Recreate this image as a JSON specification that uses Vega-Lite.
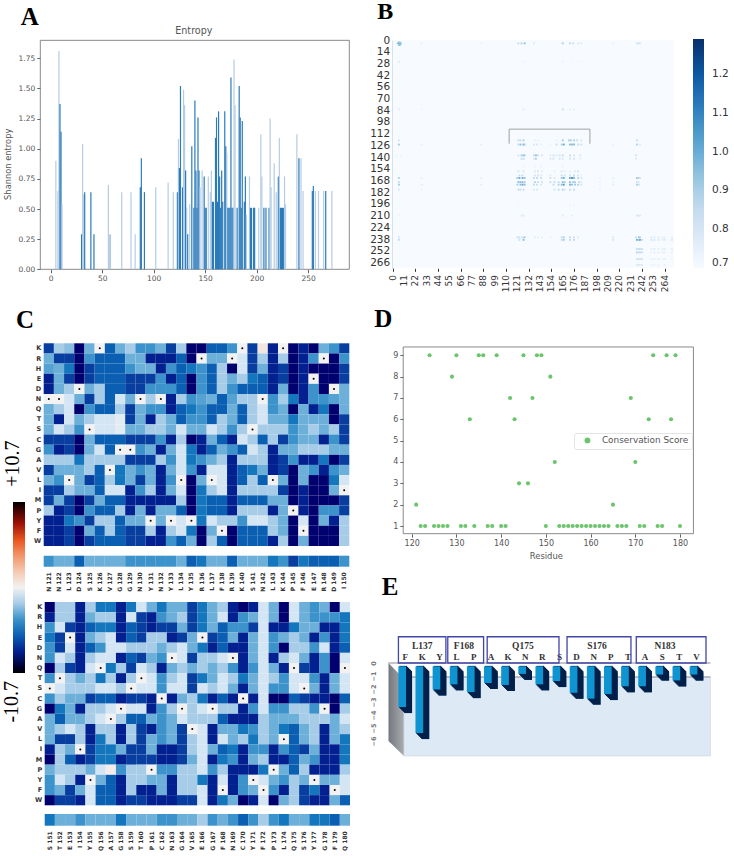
{"$schema":"https://vega.github.io/schema/vega-lite/v6.json","width":734,"height":856,"autosize":{"type":"none"},"padding":0,"background":"white","config":{"font":"DejaVu Sans","view":{"stroke":null},"axis":{"grid":false,"labelFlush":false,"labelOverlap":false}},
"datasets":{
"a":[{"x":5,"h":0.9,"t":"l"},{"x":7,"h":0.65,"t":"l"},{"x":8,"h":1.81,"t":"l"},{"x":9,"h":1.37,"t":"d"},{"x":10,"h":1.14,"t":"d"},{"x":11,"h":0.54,"t":"l"},{"x":30,"h":0.29,"t":"d"},{"x":31,"h":1.04,"t":"l"},{"x":32,"h":0.62,"t":"l"},{"x":33,"h":0.64,"t":"d"},{"x":39,"h":0.64,"t":"d"},{"x":42,"h":0.29,"t":"d"},{"x":56,"h":0.7,"t":"l"},{"x":57,"h":0.29,"t":"l"},{"x":58,"h":0.29,"t":"l"},{"x":69,"h":0.64,"t":"l"},{"x":78,"h":0.64,"t":"l"},{"x":82,"h":0.29,"t":"l"},{"x":87,"h":0.68,"t":"d"},{"x":88,"h":0.92,"t":"d"},{"x":91,"h":0.64,"t":"d"},{"x":102,"h":0.68,"t":"l"},{"x":114,"h":0.72,"t":"l"},{"x":119,"h":0.64,"t":"l"},{"x":123,"h":0.64,"t":"d"},{"x":124,"h":1.08,"t":"l"},{"x":125,"h":0.84,"t":"d"},{"x":126,"h":1.52,"t":"d"},{"x":128,"h":0.68,"t":"d"},{"x":129,"h":1.49,"t":"l"},{"x":130,"h":1.36,"t":"l"},{"x":131,"h":0.82,"t":"d"},{"x":132,"h":0.51,"t":"l"},{"x":133,"h":0.29,"t":"d"},{"x":135,"h":0.54,"t":"l"},{"x":137,"h":1.02,"t":"d"},{"x":139,"h":0.51,"t":"d"},{"x":140,"h":1.4,"t":"d"},{"x":141,"h":0.82,"t":"d"},{"x":142,"h":0.51,"t":"d"},{"x":143,"h":1.26,"t":"d"},{"x":144,"h":0.82,"t":"d"},{"x":145,"h":0.68,"t":"l"},{"x":147,"h":0.82,"t":"l"},{"x":149,"h":0.77,"t":"d"},{"x":150,"h":0.51,"t":"d"},{"x":151,"h":0.51,"t":"d"},{"x":153,"h":0.77,"t":"l"},{"x":155,"h":0.64,"t":"l"},{"x":156,"h":0.82,"t":"l"},{"x":157,"h":0.56,"t":"d"},{"x":158,"h":0.56,"t":"d"},{"x":160,"h":1.09,"t":"d"},{"x":161,"h":1.26,"t":"d"},{"x":162,"h":0.56,"t":"d"},{"x":163,"h":1.31,"t":"d"},{"x":164,"h":0.77,"t":"d"},{"x":165,"h":0.51,"t":"d"},{"x":166,"h":0.82,"t":"d"},{"x":167,"h":0.56,"t":"d"},{"x":169,"h":1.31,"t":"d"},{"x":170,"h":1.02,"t":"d"},{"x":171,"h":0.96,"t":"l"},{"x":172,"h":0.51,"t":"d"},{"x":173,"h":0.51,"t":"d"},{"x":174,"h":0.51,"t":"d"},{"x":175,"h":1.59,"t":"d"},{"x":176,"h":0.51,"t":"d"},{"x":177,"h":0.51,"t":"d"},{"x":178,"h":1.74,"t":"l"},{"x":179,"h":1.36,"t":"l"},{"x":181,"h":0.51,"t":"d"},{"x":183,"h":1.52,"t":"d"},{"x":184,"h":1.26,"t":"d"},{"x":185,"h":0.51,"t":"d"},{"x":186,"h":1.23,"t":"d"},{"x":188,"h":0.56,"t":"d"},{"x":189,"h":0.77,"t":"d"},{"x":190,"h":0.45,"t":"l"},{"x":193,"h":0.77,"t":"l"},{"x":194,"h":0.51,"t":"d"},{"x":195,"h":0.51,"t":"d"},{"x":197,"h":0.51,"t":"d"},{"x":198,"h":0.51,"t":"d"},{"x":202,"h":0.51,"t":"l"},{"x":204,"h":1.12,"t":"l"},{"x":205,"h":0.77,"t":"l"},{"x":207,"h":0.51,"t":"d"},{"x":209,"h":0.51,"t":"d"},{"x":212,"h":0.51,"t":"d"},{"x":213,"h":1.25,"t":"l"},{"x":214,"h":0.68,"t":"l"},{"x":217,"h":0.88,"t":"l"},{"x":219,"h":0.64,"t":"l"},{"x":221,"h":0.77,"t":"d"},{"x":222,"h":1.09,"t":"l"},{"x":223,"h":0.51,"t":"d"},{"x":224,"h":0.51,"t":"d"},{"x":225,"h":0.51,"t":"d"},{"x":226,"h":0.51,"t":"d"},{"x":227,"h":0.77,"t":"l"},{"x":228,"h":0.54,"t":"l"},{"x":239,"h":1.12,"t":"l"},{"x":241,"h":0.92,"t":"d"},{"x":243,"h":0.92,"t":"l"},{"x":245,"h":0.65,"t":"l"},{"x":254,"h":0.65,"t":"d"},{"x":255,"h":0.69,"t":"d"},{"x":257,"h":0.65,"t":"l"},{"x":260,"h":0.65,"t":"l"},{"x":265,"h":0.65,"t":"l"},{"x":267,"h":0.65,"t":"d"},{"x":273,"h":0.65,"t":"l"}],
"b":[{"x":5,"y":4,"v":0.95},{"x":6,"y":4,"v":1},{"x":7,"y":4,"v":1.05},{"x":8,"y":4,"v":0.95},{"x":6,"y":3,"v":0.95},{"x":7,"y":3,"v":0.9},{"x":6,"y":6,"v":0.9},{"x":7,"y":6,"v":0.95},{"x":28,"y":4,"v":0.76},{"x":86,"y":4,"v":0.74},{"x":122,"y":4,"v":0.85},{"x":125,"y":4,"v":0.88},{"x":128,"y":4,"v":0.95},{"x":137,"y":4,"v":0.78},{"x":165,"y":4,"v":0.9},{"x":172,"y":4,"v":0.85},{"x":175,"y":4,"v":0.85},{"x":180,"y":4,"v":0.8},{"x":183,"y":4,"v":0.78},{"x":214,"y":4,"v":0.74},{"x":237,"y":4,"v":0.82},{"x":239,"y":4,"v":0.82},{"x":240,"y":4,"v":0.8},{"x":6,"y":26,"v":0.78},{"x":127,"y":26,"v":0.74},{"x":165,"y":26,"v":0.74},{"x":86,"y":26,"v":0.72},{"x":174,"y":26,"v":0.72},{"x":179,"y":26,"v":0.72},{"x":183,"y":26,"v":0.72},{"x":6,"y":83,"v":0.76},{"x":28,"y":83,"v":0.73},{"x":127,"y":83,"v":0.78},{"x":165,"y":83,"v":0.85},{"x":172,"y":83,"v":0.76},{"x":176,"y":83,"v":0.76},{"x":6,"y":120,"v":0.8},{"x":122,"y":120,"v":0.85},{"x":124,"y":120,"v":0.85},{"x":127,"y":120,"v":0.9},{"x":138,"y":120,"v":0.75},{"x":141,"y":120,"v":0.75},{"x":159,"y":120,"v":0.75},{"x":165,"y":120,"v":0.92},{"x":171,"y":120,"v":0.9},{"x":173,"y":120,"v":0.9},{"x":176,"y":120,"v":0.9},{"x":179,"y":120,"v":0.85},{"x":183,"y":120,"v":0.8},{"x":237,"y":120,"v":0.85},{"x":6,"y":125,"v":0.92},{"x":28,"y":125,"v":0.76},{"x":86,"y":125,"v":0.76},{"x":122,"y":125,"v":0.85},{"x":124,"y":125,"v":0.95},{"x":127,"y":125,"v":1},{"x":128,"y":125,"v":0.9},{"x":137,"y":125,"v":0.8},{"x":140,"y":125,"v":0.8},{"x":144,"y":125,"v":0.75},{"x":153,"y":125,"v":0.73},{"x":159,"y":125,"v":0.85},{"x":164,"y":125,"v":0.9},{"x":166,"y":125,"v":1},{"x":172,"y":125,"v":0.95},{"x":174,"y":125,"v":0.95},{"x":176,"y":125,"v":0.95},{"x":180,"y":125,"v":0.85},{"x":183,"y":125,"v":0.82},{"x":191,"y":125,"v":0.73},{"x":214,"y":125,"v":0.74},{"x":237,"y":125,"v":0.9},{"x":240,"y":125,"v":0.78},{"x":4,"y":138,"v":0.74},{"x":8,"y":138,"v":0.74},{"x":122,"y":138,"v":0.82},{"x":125,"y":138,"v":0.9},{"x":127,"y":138,"v":0.95},{"x":128,"y":138,"v":0.9},{"x":137,"y":138,"v":0.85},{"x":139,"y":138,"v":0.95},{"x":141,"y":138,"v":0.85},{"x":145,"y":138,"v":0.8},{"x":153,"y":138,"v":0.78},{"x":156,"y":138,"v":0.8},{"x":159,"y":138,"v":0.78},{"x":162,"y":138,"v":0.8},{"x":165,"y":138,"v":0.85},{"x":172,"y":138,"v":0.85},{"x":176,"y":138,"v":0.8},{"x":182,"y":138,"v":0.8},{"x":236,"y":138,"v":0.82},{"x":125,"y":142,"v":0.85},{"x":127,"y":142,"v":0.85},{"x":137,"y":142,"v":0.8},{"x":139,"y":142,"v":0.9},{"x":153,"y":142,"v":0.8},{"x":156,"y":142,"v":0.8},{"x":162,"y":142,"v":0.8},{"x":165,"y":142,"v":0.8},{"x":172,"y":142,"v":0.8},{"x":176,"y":142,"v":0.8},{"x":182,"y":142,"v":0.75},{"x":236,"y":142,"v":0.78},{"x":127,"y":151,"v":0.74},{"x":138,"y":151,"v":0.74},{"x":144,"y":151,"v":0.74},{"x":165,"y":151,"v":0.74},{"x":122,"y":157,"v":0.8},{"x":127,"y":157,"v":0.8},{"x":138,"y":157,"v":0.78},{"x":141,"y":157,"v":0.8},{"x":145,"y":157,"v":0.76},{"x":157,"y":157,"v":0.76},{"x":164,"y":157,"v":0.8},{"x":167,"y":157,"v":0.76},{"x":172,"y":157,"v":0.76},{"x":177,"y":157,"v":0.78},{"x":180,"y":157,"v":0.8},{"x":123,"y":162,"v":0.85},{"x":126,"y":162,"v":0.85},{"x":138,"y":162,"v":0.82},{"x":141,"y":162,"v":0.8},{"x":144,"y":162,"v":0.78},{"x":153,"y":162,"v":0.78},{"x":164,"y":162,"v":0.85},{"x":167,"y":162,"v":0.82},{"x":172,"y":162,"v":0.82},{"x":176,"y":162,"v":0.85},{"x":180,"y":162,"v":0.8},{"x":183,"y":162,"v":0.74},{"x":6,"y":165,"v":0.9},{"x":28,"y":165,"v":0.76},{"x":86,"y":165,"v":0.76},{"x":121,"y":165,"v":0.92},{"x":123,"y":165,"v":1},{"x":126,"y":165,"v":1},{"x":128,"y":165,"v":0.95},{"x":137,"y":165,"v":0.85},{"x":140,"y":165,"v":0.85},{"x":144,"y":165,"v":0.82},{"x":153,"y":165,"v":0.82},{"x":157,"y":165,"v":0.8},{"x":164,"y":165,"v":0.92},{"x":166,"y":165,"v":1},{"x":172,"y":165,"v":1},{"x":174,"y":165,"v":1.05},{"x":176,"y":165,"v":0.95},{"x":180,"y":165,"v":0.88},{"x":183,"y":165,"v":0.78},{"x":201,"y":165,"v":0.73},{"x":214,"y":165,"v":0.76},{"x":237,"y":165,"v":0.92},{"x":239,"y":165,"v":0.88},{"x":240,"y":165,"v":0.82},{"x":6,"y":170,"v":0.85},{"x":122,"y":170,"v":0.95},{"x":124,"y":170,"v":0.95},{"x":126,"y":170,"v":0.95},{"x":128,"y":170,"v":0.92},{"x":138,"y":170,"v":0.88},{"x":141,"y":170,"v":0.85},{"x":145,"y":170,"v":0.82},{"x":153,"y":170,"v":0.85},{"x":157,"y":170,"v":0.85},{"x":161,"y":170,"v":0.85},{"x":165,"y":170,"v":0.95},{"x":167,"y":170,"v":0.9},{"x":172,"y":170,"v":0.95},{"x":175,"y":170,"v":0.92},{"x":177,"y":170,"v":0.9},{"x":181,"y":170,"v":0.85},{"x":183,"y":170,"v":0.78},{"x":201,"y":170,"v":0.73},{"x":214,"y":170,"v":0.74},{"x":237,"y":170,"v":0.82},{"x":239,"y":170,"v":0.78},{"x":6,"y":173,"v":0.92},{"x":28,"y":173,"v":0.76},{"x":86,"y":173,"v":0.76},{"x":121,"y":173,"v":0.9},{"x":124,"y":173,"v":0.95},{"x":126,"y":173,"v":1},{"x":128,"y":173,"v":0.95},{"x":137,"y":173,"v":0.85},{"x":140,"y":173,"v":0.85},{"x":144,"y":173,"v":0.8},{"x":156,"y":173,"v":0.85},{"x":161,"y":173,"v":0.9},{"x":164,"y":173,"v":0.95},{"x":166,"y":173,"v":1.05},{"x":172,"y":173,"v":0.98},{"x":174,"y":173,"v":0.95},{"x":177,"y":173,"v":0.92},{"x":180,"y":173,"v":0.9},{"x":183,"y":173,"v":0.8},{"x":201,"y":173,"v":0.74},{"x":214,"y":173,"v":0.76},{"x":237,"y":173,"v":0.9},{"x":239,"y":173,"v":0.82},{"x":6,"y":179,"v":0.8},{"x":28,"y":179,"v":0.74},{"x":122,"y":179,"v":0.85},{"x":124,"y":179,"v":0.85},{"x":127,"y":179,"v":0.85},{"x":137,"y":179,"v":0.8},{"x":140,"y":179,"v":0.78},{"x":157,"y":179,"v":0.82},{"x":161,"y":179,"v":0.85},{"x":165,"y":179,"v":0.88},{"x":167,"y":179,"v":0.8},{"x":172,"y":179,"v":0.85},{"x":176,"y":179,"v":0.85},{"x":201,"y":179,"v":0.73},{"x":123,"y":197,"v":0.72},{"x":172,"y":197,"v":0.73},{"x":176,"y":197,"v":0.73},{"x":180,"y":197,"v":0.72},{"x":6,"y":210,"v":0.74},{"x":125,"y":210,"v":0.76},{"x":127,"y":210,"v":0.78},{"x":165,"y":210,"v":0.78},{"x":174,"y":210,"v":0.76},{"x":237,"y":210,"v":0.8},{"x":239,"y":210,"v":0.8},{"x":240,"y":210,"v":0.78},{"x":6,"y":236,"v":0.8},{"x":121,"y":236,"v":0.82},{"x":123,"y":236,"v":0.85},{"x":126,"y":236,"v":0.85},{"x":128,"y":236,"v":0.92},{"x":138,"y":236,"v":0.76},{"x":141,"y":236,"v":0.76},{"x":145,"y":236,"v":0.75},{"x":154,"y":236,"v":0.74},{"x":164,"y":236,"v":0.85},{"x":166,"y":236,"v":0.9},{"x":172,"y":236,"v":0.85},{"x":176,"y":236,"v":0.85},{"x":180,"y":236,"v":0.78},{"x":214,"y":236,"v":0.78},{"x":236,"y":236,"v":0.85},{"x":239,"y":236,"v":0.95},{"x":240,"y":236,"v":0.9},{"x":251,"y":236,"v":0.78},{"x":254,"y":236,"v":0.78},{"x":258,"y":236,"v":0.78},{"x":262,"y":236,"v":0.76},{"x":264,"y":236,"v":0.76},{"x":271,"y":236,"v":0.76},{"x":6,"y":239,"v":0.85},{"x":123,"y":239,"v":0.82},{"x":127,"y":239,"v":0.95},{"x":164,"y":239,"v":0.85},{"x":166,"y":239,"v":0.92},{"x":172,"y":239,"v":0.85},{"x":176,"y":239,"v":0.88},{"x":214,"y":239,"v":0.8},{"x":237,"y":239,"v":1},{"x":239,"y":239,"v":0.9},{"x":240,"y":239,"v":1},{"x":242,"y":239,"v":0.85},{"x":251,"y":239,"v":0.8},{"x":254,"y":239,"v":0.8},{"x":258,"y":239,"v":0.78},{"x":262,"y":239,"v":0.78},{"x":264,"y":239,"v":0.78},{"x":271,"y":239,"v":0.8},{"x":237,"y":250,"v":0.85},{"x":239,"y":250,"v":0.85},{"x":240,"y":250,"v":0.85},{"x":242,"y":250,"v":0.85},{"x":251,"y":250,"v":0.76},{"x":254,"y":250,"v":0.78},{"x":258,"y":250,"v":0.76},{"x":262,"y":250,"v":0.76},{"x":264,"y":250,"v":0.76},{"x":271,"y":250,"v":0.76},{"x":237,"y":254,"v":0.88},{"x":239,"y":254,"v":0.85},{"x":240,"y":254,"v":0.85},{"x":242,"y":254,"v":0.85},{"x":251,"y":254,"v":0.74},{"x":254,"y":254,"v":0.76},{"x":258,"y":254,"v":0.76},{"x":262,"y":254,"v":0.76},{"x":264,"y":254,"v":0.76},{"x":271,"y":254,"v":0.76},{"x":237,"y":262,"v":0.82},{"x":239,"y":262,"v":0.82},{"x":240,"y":262,"v":0.82},{"x":242,"y":262,"v":0.82},{"x":251,"y":262,"v":0.76},{"x":254,"y":262,"v":0.76},{"x":258,"y":262,"v":0.76},{"x":262,"y":262,"v":0.74},{"x":264,"y":262,"v":0.76},{"x":271,"y":262,"v":0.74},{"x":237,"y":269,"v":0.78},{"x":239,"y":269,"v":0.78},{"x":240,"y":269,"v":0.78},{"x":242,"y":269,"v":0.78},{"x":251,"y":269,"v":0.74},{"x":254,"y":269,"v":0.74},{"x":258,"y":269,"v":0.74},{"x":264,"y":269,"v":0.74}],
"bt":[{"x":0},{"x":11},{"x":22},{"x":33},{"x":44},{"x":55},{"x":66},{"x":77},{"x":88},{"x":99},{"x":110},{"x":121},{"x":132},{"x":143},{"x":154},{"x":165},{"x":176},{"x":187},{"x":198},{"x":209},{"x":220},{"x":231},{"x":242},{"x":253},{"x":264}],
"c1":[{"a":"K","p":121,"v":-7},{"a":"K","p":122,"v":-2},{"a":"K","p":123,"v":-2.5},{"a":"K","p":124,"v":-9},{"a":"K","p":125,"v":-3},{"a":"K","p":126,"v":0},{"a":"K","p":127,"v":-6},{"a":"K","p":128,"v":-3},{"a":"K","p":129,"v":-2},{"a":"K","p":130,"v":-4},{"a":"K","p":131,"v":-4},{"a":"K","p":132,"v":-3},{"a":"K","p":133,"v":-7},{"a":"K","p":134,"v":-2},{"a":"K","p":135,"v":-9},{"a":"K","p":136,"v":-9},{"a":"K","p":137,"v":-6},{"a":"K","p":138,"v":-6},{"a":"K","p":139,"v":-4},{"a":"K","p":140,"v":0},{"a":"K","p":141,"v":-7},{"a":"K","p":142,"v":0.6},{"a":"K","p":143,"v":-8},{"a":"K","p":144,"v":0},{"a":"K","p":145,"v":-9},{"a":"K","p":146,"v":-8},{"a":"K","p":147,"v":-9},{"a":"K","p":148,"v":-3},{"a":"K","p":149,"v":-4},{"a":"K","p":150,"v":-7},
{"a":"R","p":121,"v":-3},{"a":"R","p":122,"v":-7},{"a":"R","p":123,"v":-7},{"a":"R","p":124,"v":-9},{"a":"R","p":125,"v":-4},{"a":"R","p":126,"v":-6},{"a":"R","p":127,"v":-6},{"a":"R","p":128,"v":-6},{"a":"R","p":129,"v":-3},{"a":"R","p":130,"v":-3},{"a":"R","p":131,"v":-8},{"a":"R","p":132,"v":-8},{"a":"R","p":133,"v":-8},{"a":"R","p":134,"v":-6},{"a":"R","p":135,"v":-9},{"a":"R","p":136,"v":0},{"a":"R","p":137,"v":-3},{"a":"R","p":138,"v":-3},{"a":"R","p":139,"v":0},{"a":"R","p":140,"v":-1},{"a":"R","p":141,"v":-7},{"a":"R","p":142,"v":-2},{"a":"R","p":143,"v":-8},{"a":"R","p":144,"v":-2},{"a":"R","p":145,"v":-9},{"a":"R","p":146,"v":-8},{"a":"R","p":147,"v":-4},{"a":"R","p":148,"v":0},{"a":"R","p":149,"v":-9},{"a":"R","p":150,"v":-4},
{"a":"H","p":121,"v":-3.5},{"a":"H","p":122,"v":-3},{"a":"H","p":123,"v":-5},{"a":"H","p":124,"v":-9},{"a":"H","p":125,"v":-7},{"a":"H","p":126,"v":-6},{"a":"H","p":127,"v":-6},{"a":"H","p":128,"v":-6},{"a":"H","p":129,"v":-4},{"a":"H","p":130,"v":-3},{"a":"H","p":131,"v":-3},{"a":"H","p":132,"v":-8},{"a":"H","p":133,"v":-4},{"a":"H","p":134,"v":-6},{"a":"H","p":135,"v":-5},{"a":"H","p":136,"v":-4},{"a":"H","p":137,"v":-6},{"a":"H","p":138,"v":-2},{"a":"H","p":139,"v":-9},{"a":"H","p":140,"v":-1},{"a":"H","p":141,"v":-7},{"a":"H","p":142,"v":-3},{"a":"H","p":143,"v":-8},{"a":"H","p":144,"v":-7},{"a":"H","p":145,"v":-9},{"a":"H","p":146,"v":-8},{"a":"H","p":147,"v":-9},{"a":"H","p":148,"v":-9},{"a":"H","p":149,"v":-9},{"a":"H","p":150,"v":-7},
{"a":"E","p":121,"v":-8},{"a":"E","p":122,"v":-3},{"a":"E","p":123,"v":-7},{"a":"E","p":124,"v":-9},{"a":"E","p":125,"v":-7},{"a":"E","p":126,"v":-6},{"a":"E","p":127,"v":-6},{"a":"E","p":128,"v":-6},{"a":"E","p":129,"v":-7},{"a":"E","p":130,"v":-7},{"a":"E","p":131,"v":-7},{"a":"E","p":132,"v":-4},{"a":"E","p":133,"v":-8},{"a":"E","p":134,"v":-6},{"a":"E","p":135,"v":-9},{"a":"E","p":136,"v":-4},{"a":"E","p":137,"v":-6},{"a":"E","p":138,"v":-2},{"a":"E","p":139,"v":-3},{"a":"E","p":140,"v":-2},{"a":"E","p":141,"v":-5},{"a":"E","p":142,"v":-6},{"a":"E","p":143,"v":-8},{"a":"E","p":144,"v":-7},{"a":"E","p":145,"v":-9},{"a":"E","p":146,"v":-8},{"a":"E","p":147,"v":0},{"a":"E","p":148,"v":-9},{"a":"E","p":149,"v":-9},{"a":"E","p":150,"v":-7},
{"a":"D","p":121,"v":-8},{"a":"D","p":122,"v":-3},{"a":"D","p":123,"v":-2},{"a":"D","p":124,"v":0},{"a":"D","p":125,"v":-3},{"a":"D","p":126,"v":-2},{"a":"D","p":127,"v":-6},{"a":"D","p":128,"v":-6},{"a":"D","p":129,"v":-7},{"a":"D","p":130,"v":-7},{"a":"D","p":131,"v":-4},{"a":"D","p":132,"v":-4},{"a":"D","p":133,"v":-4},{"a":"D","p":134,"v":-6},{"a":"D","p":135,"v":-9},{"a":"D","p":136,"v":-4},{"a":"D","p":137,"v":-6},{"a":"D","p":138,"v":-2},{"a":"D","p":139,"v":-4},{"a":"D","p":140,"v":-6},{"a":"D","p":141,"v":-6},{"a":"D","p":142,"v":-6},{"a":"D","p":143,"v":-8},{"a":"D","p":144,"v":-3},{"a":"D","p":145,"v":-9},{"a":"D","p":146,"v":-8},{"a":"D","p":147,"v":-4},{"a":"D","p":148,"v":-9},{"a":"D","p":149,"v":0},{"a":"D","p":150,"v":-3},
{"a":"N","p":121,"v":0},{"a":"N","p":122,"v":0},{"a":"N","p":123,"v":-1},{"a":"N","p":124,"v":-3},{"a":"N","p":125,"v":-7},{"a":"N","p":126,"v":-2},{"a":"N","p":127,"v":-6},{"a":"N","p":128,"v":-1},{"a":"N","p":129,"v":-3},{"a":"N","p":130,"v":0},{"a":"N","p":131,"v":-2},{"a":"N","p":132,"v":0},{"a":"N","p":133,"v":-8},{"a":"N","p":134,"v":-2},{"a":"N","p":135,"v":-4},{"a":"N","p":136,"v":-3.5},{"a":"N","p":137,"v":-3},{"a":"N","p":138,"v":-6},{"a":"N","p":139,"v":-3.5},{"a":"N","p":140,"v":-2},{"a":"N","p":141,"v":-2},{"a":"N","p":142,"v":0},{"a":"N","p":143,"v":-4},{"a":"N","p":144,"v":-2},{"a":"N","p":145,"v":-5},{"a":"N","p":146,"v":-8},{"a":"N","p":147,"v":-4},{"a":"N","p":148,"v":-4},{"a":"N","p":149,"v":-3.5},{"a":"N","p":150,"v":-3},
{"a":"Q","p":121,"v":-3},{"a":"Q","p":122,"v":-2},{"a":"Q","p":123,"v":-1},{"a":"Q","p":124,"v":-9},{"a":"Q","p":125,"v":-4},{"a":"Q","p":126,"v":-6},{"a":"Q","p":127,"v":-6},{"a":"Q","p":128,"v":-2},{"a":"Q","p":129,"v":-7},{"a":"Q","p":130,"v":-3},{"a":"Q","p":131,"v":-4},{"a":"Q","p":132,"v":-4},{"a":"Q","p":133,"v":-8},{"a":"Q","p":134,"v":-6},{"a":"Q","p":135,"v":-5},{"a":"Q","p":136,"v":-4},{"a":"Q","p":137,"v":-6},{"a":"Q","p":138,"v":-6},{"a":"Q","p":139,"v":-3},{"a":"Q","p":140,"v":-6},{"a":"Q","p":141,"v":-2},{"a":"Q","p":142,"v":-1},{"a":"Q","p":143,"v":-4},{"a":"Q","p":144,"v":-3},{"a":"Q","p":145,"v":-9},{"a":"Q","p":146,"v":-3},{"a":"Q","p":147,"v":-8},{"a":"Q","p":148,"v":-5},{"a":"Q","p":149,"v":-9},{"a":"Q","p":150,"v":-3},
{"a":"T","p":121,"v":-3},{"a":"T","p":122,"v":-8},{"a":"T","p":123,"v":-1},{"a":"T","p":124,"v":-3},{"a":"T","p":125,"v":-2},{"a":"T","p":126,"v":-1},{"a":"T","p":127,"v":-1},{"a":"T","p":128,"v":-0.5},{"a":"T","p":129,"v":-7},{"a":"T","p":130,"v":-3},{"a":"T","p":131,"v":-8},{"a":"T","p":132,"v":-2},{"a":"T","p":133,"v":-3},{"a":"T","p":134,"v":-6},{"a":"T","p":135,"v":-4},{"a":"T","p":136,"v":-4},{"a":"T","p":137,"v":-6},{"a":"T","p":138,"v":-2},{"a":"T","p":139,"v":-3},{"a":"T","p":140,"v":-6},{"a":"T","p":141,"v":-2},{"a":"T","p":142,"v":-1},{"a":"T","p":143,"v":-3},{"a":"T","p":144,"v":-3},{"a":"T","p":145,"v":-5},{"a":"T","p":146,"v":-3},{"a":"T","p":147,"v":-3},{"a":"T","p":148,"v":-3},{"a":"T","p":149,"v":-9},{"a":"T","p":150,"v":-7},
{"a":"S","p":121,"v":-3},{"a":"S","p":122,"v":-1},{"a":"S","p":123,"v":-2},{"a":"S","p":124,"v":-4},{"a":"S","p":125,"v":0},{"a":"S","p":126,"v":-1},{"a":"S","p":127,"v":-1},{"a":"S","p":128,"v":-0.5},{"a":"S","p":129,"v":-3},{"a":"S","p":130,"v":-3},{"a":"S","p":131,"v":-2},{"a":"S","p":132,"v":-2},{"a":"S","p":133,"v":-3},{"a":"S","p":134,"v":-1},{"a":"S","p":135,"v":-3},{"a":"S","p":136,"v":-3},{"a":"S","p":137,"v":-1},{"a":"S","p":138,"v":-2},{"a":"S","p":139,"v":-4},{"a":"S","p":140,"v":-2},{"a":"S","p":141,"v":0},{"a":"S","p":142,"v":-2},{"a":"S","p":143,"v":-2},{"a":"S","p":144,"v":-2},{"a":"S","p":145,"v":-4},{"a":"S","p":146,"v":-3},{"a":"S","p":147,"v":-2},{"a":"S","p":148,"v":-3},{"a":"S","p":149,"v":-2},{"a":"S","p":150,"v":-7},
{"a":"C","p":121,"v":-7},{"a":"C","p":122,"v":-7},{"a":"C","p":123,"v":-7},{"a":"C","p":124,"v":-9},{"a":"C","p":125,"v":-3},{"a":"C","p":126,"v":-6},{"a":"C","p":127,"v":-6},{"a":"C","p":128,"v":-6},{"a":"C","p":129,"v":-7},{"a":"C","p":130,"v":-7},{"a":"C","p":131,"v":-7},{"a":"C","p":132,"v":-4},{"a":"C","p":133,"v":-8},{"a":"C","p":134,"v":-2},{"a":"C","p":135,"v":-9},{"a":"C","p":136,"v":-8},{"a":"C","p":137,"v":-3},{"a":"C","p":138,"v":-6},{"a":"C","p":139,"v":-8},{"a":"C","p":140,"v":-1},{"a":"C","p":141,"v":-2},{"a":"C","p":142,"v":-6},{"a":"C","p":143,"v":-2},{"a":"C","p":144,"v":-7},{"a":"C","p":145,"v":-4},{"a":"C","p":146,"v":-3},{"a":"C","p":147,"v":-3},{"a":"C","p":148,"v":-8},{"a":"C","p":149,"v":-4},{"a":"C","p":150,"v":-7},
{"a":"G","p":121,"v":-4},{"a":"G","p":122,"v":-8},{"a":"G","p":123,"v":-7},{"a":"G","p":124,"v":-9},{"a":"G","p":125,"v":-3},{"a":"G","p":126,"v":-1},{"a":"G","p":127,"v":-6},{"a":"G","p":128,"v":0},{"a":"G","p":129,"v":0},{"a":"G","p":130,"v":-4},{"a":"G","p":131,"v":-3},{"a":"G","p":132,"v":-8},{"a":"G","p":133,"v":-3},{"a":"G","p":134,"v":-1},{"a":"G","p":135,"v":-5},{"a":"G","p":136,"v":-8},{"a":"G","p":137,"v":-6},{"a":"G","p":138,"v":-3},{"a":"G","p":139,"v":-4},{"a":"G","p":140,"v":-6},{"a":"G","p":141,"v":-1},{"a":"G","p":142,"v":-2},{"a":"G","p":143,"v":-8},{"a":"G","p":144,"v":-3},{"a":"G","p":145,"v":-3},{"a":"G","p":146,"v":-2},{"a":"G","p":147,"v":-2},{"a":"G","p":148,"v":-2},{"a":"G","p":149,"v":-3},{"a":"G","p":150,"v":-3},
{"a":"A","p":121,"v":-2},{"a":"A","p":122,"v":-2},{"a":"A","p":123,"v":-2},{"a":"A","p":124,"v":-5},{"a":"A","p":125,"v":-2},{"a":"A","p":126,"v":-2},{"a":"A","p":127,"v":-2},{"a":"A","p":128,"v":-2},{"a":"A","p":129,"v":-7},{"a":"A","p":130,"v":-7},{"a":"A","p":131,"v":-7},{"a":"A","p":132,"v":-2},{"a":"A","p":133,"v":-4},{"a":"A","p":134,"v":-1},{"a":"A","p":135,"v":-5},{"a":"A","p":136,"v":-4},{"a":"A","p":137,"v":-3},{"a":"A","p":138,"v":-2},{"a":"A","p":139,"v":-8},{"a":"A","p":140,"v":-2},{"a":"A","p":141,"v":-2},{"a":"A","p":142,"v":-2},{"a":"A","p":143,"v":-8},{"a":"A","p":144,"v":-7},{"a":"A","p":145,"v":-4},{"a":"A","p":146,"v":-8},{"a":"A","p":147,"v":-8},{"a":"A","p":148,"v":-5},{"a":"A","p":149,"v":-9},{"a":"A","p":150,"v":-7},
{"a":"V","p":121,"v":-7},{"a":"V","p":122,"v":-3},{"a":"V","p":123,"v":-3},{"a":"V","p":124,"v":-3},{"a":"V","p":125,"v":-2},{"a":"V","p":126,"v":-6},{"a":"V","p":127,"v":0},{"a":"V","p":128,"v":-5},{"a":"V","p":129,"v":-3},{"a":"V","p":130,"v":-4},{"a":"V","p":131,"v":-3},{"a":"V","p":132,"v":-8},{"a":"V","p":133,"v":-3},{"a":"V","p":134,"v":-1},{"a":"V","p":135,"v":-4},{"a":"V","p":136,"v":-8},{"a":"V","p":137,"v":-1},{"a":"V","p":138,"v":-1},{"a":"V","p":139,"v":-8},{"a":"V","p":140,"v":-6},{"a":"V","p":141,"v":-5},{"a":"V","p":142,"v":-3},{"a":"V","p":143,"v":-8},{"a":"V","p":144,"v":-7},{"a":"V","p":145,"v":-9},{"a":"V","p":146,"v":-3},{"a":"V","p":147,"v":-4},{"a":"V","p":148,"v":-8},{"a":"V","p":149,"v":-4},{"a":"V","p":150,"v":-3},
{"a":"L","p":121,"v":-3},{"a":"L","p":122,"v":-4},{"a":"L","p":123,"v":0},{"a":"L","p":124,"v":-3},{"a":"L","p":125,"v":-7},{"a":"L","p":126,"v":-6},{"a":"L","p":127,"v":-2},{"a":"L","p":128,"v":-5},{"a":"L","p":129,"v":-3},{"a":"L","p":130,"v":-7},{"a":"L","p":131,"v":-3},{"a":"L","p":132,"v":-8},{"a":"L","p":133,"v":-4},{"a":"L","p":134,"v":0},{"a":"L","p":135,"v":-9},{"a":"L","p":136,"v":-3},{"a":"L","p":137,"v":0},{"a":"L","p":138,"v":-1},{"a":"L","p":139,"v":-8},{"a":"L","p":140,"v":-6},{"a":"L","p":141,"v":-2},{"a":"L","p":142,"v":-6},{"a":"L","p":143,"v":0},{"a":"L","p":144,"v":-3},{"a":"L","p":145,"v":-9},{"a":"L","p":146,"v":-3},{"a":"L","p":147,"v":-9},{"a":"L","p":148,"v":-9},{"a":"L","p":149,"v":-5},{"a":"L","p":150,"v":-1},
{"a":"I","p":121,"v":-7},{"a":"I","p":122,"v":-7},{"a":"I","p":123,"v":-2},{"a":"I","p":124,"v":-3},{"a":"I","p":125,"v":-3},{"a":"I","p":126,"v":-6},{"a":"I","p":127,"v":-1},{"a":"I","p":128,"v":-1},{"a":"I","p":129,"v":-8},{"a":"I","p":130,"v":-4},{"a":"I","p":131,"v":-2},{"a":"I","p":132,"v":-8},{"a":"I","p":133,"v":-3},{"a":"I","p":134,"v":-1},{"a":"I","p":135,"v":-9},{"a":"I","p":136,"v":-5},{"a":"I","p":137,"v":-2},{"a":"I","p":138,"v":-1},{"a":"I","p":139,"v":-8},{"a":"I","p":140,"v":-2},{"a":"I","p":141,"v":-2},{"a":"I","p":142,"v":-2},{"a":"I","p":143,"v":-2},{"a":"I","p":144,"v":-7},{"a":"I","p":145,"v":-9},{"a":"I","p":146,"v":-8},{"a":"I","p":147,"v":-9},{"a":"I","p":148,"v":-9},{"a":"I","p":149,"v":-3},{"a":"I","p":150,"v":0},
{"a":"M","p":121,"v":-7},{"a":"M","p":122,"v":-3},{"a":"M","p":123,"v":-7},{"a":"M","p":124,"v":-9},{"a":"M","p":125,"v":-7},{"a":"M","p":126,"v":-3},{"a":"M","p":127,"v":-6},{"a":"M","p":128,"v":-6},{"a":"M","p":129,"v":-8},{"a":"M","p":130,"v":-8},{"a":"M","p":131,"v":-8},{"a":"M","p":132,"v":-8},{"a":"M","p":133,"v":-8},{"a":"M","p":134,"v":-2},{"a":"M","p":135,"v":-9},{"a":"M","p":136,"v":-5},{"a":"M","p":137,"v":-6},{"a":"M","p":138,"v":-6},{"a":"M","p":139,"v":-8},{"a":"M","p":140,"v":-6},{"a":"M","p":141,"v":-6},{"a":"M","p":142,"v":-6},{"a":"M","p":143,"v":-3},{"a":"M","p":144,"v":-3},{"a":"M","p":145,"v":-9},{"a":"M","p":146,"v":-8},{"a":"M","p":147,"v":-9},{"a":"M","p":148,"v":-9},{"a":"M","p":149,"v":-9},{"a":"M","p":150,"v":-7},
{"a":"P","p":121,"v":-2},{"a":"P","p":122,"v":-8},{"a":"P","p":123,"v":-7},{"a":"P","p":124,"v":-9},{"a":"P","p":125,"v":-4},{"a":"P","p":126,"v":-6},{"a":"P","p":127,"v":-6},{"a":"P","p":128,"v":-2},{"a":"P","p":129,"v":-8},{"a":"P","p":130,"v":-3},{"a":"P","p":131,"v":-8},{"a":"P","p":132,"v":-3},{"a":"P","p":133,"v":-3},{"a":"P","p":134,"v":-6},{"a":"P","p":135,"v":-9},{"a":"P","p":136,"v":-5},{"a":"P","p":137,"v":-6},{"a":"P","p":138,"v":-6},{"a":"P","p":139,"v":-8},{"a":"P","p":140,"v":-2},{"a":"P","p":141,"v":-2},{"a":"P","p":142,"v":-2},{"a":"P","p":143,"v":-8},{"a":"P","p":144,"v":-3},{"a":"P","p":145,"v":0},{"a":"P","p":146,"v":-8},{"a":"P","p":147,"v":-9},{"a":"P","p":148,"v":-4},{"a":"P","p":149,"v":-4},{"a":"P","p":150,"v":-7},
{"a":"Y","p":121,"v":-8},{"a":"Y","p":122,"v":-8},{"a":"Y","p":123,"v":-5},{"a":"Y","p":124,"v":-4},{"a":"Y","p":125,"v":-7},{"a":"Y","p":126,"v":-2},{"a":"Y","p":127,"v":-2},{"a":"Y","p":128,"v":-6},{"a":"Y","p":129,"v":-3},{"a":"Y","p":130,"v":-3},{"a":"Y","p":131,"v":0},{"a":"Y","p":132,"v":-3},{"a":"Y","p":133,"v":0},{"a":"Y","p":134,"v":-1},{"a":"Y","p":135,"v":0},{"a":"Y","p":136,"v":-5},{"a":"Y","p":137,"v":-1},{"a":"Y","p":138,"v":-2},{"a":"Y","p":139,"v":-2},{"a":"Y","p":140,"v":-4},{"a":"Y","p":141,"v":-1},{"a":"Y","p":142,"v":-1},{"a":"Y","p":143,"v":-2},{"a":"Y","p":144,"v":-3},{"a":"Y","p":145,"v":-9},{"a":"Y","p":146,"v":-1},{"a":"Y","p":147,"v":-9},{"a":"Y","p":148,"v":-3},{"a":"Y","p":149,"v":-8},{"a":"Y","p":150,"v":-2},
{"a":"F","p":121,"v":-8},{"a":"F","p":122,"v":-8},{"a":"F","p":123,"v":-7},{"a":"F","p":124,"v":-9},{"a":"F","p":125,"v":-3},{"a":"F","p":126,"v":-6},{"a":"F","p":127,"v":-2},{"a":"F","p":128,"v":-6},{"a":"F","p":129,"v":-7},{"a":"F","p":130,"v":-7},{"a":"F","p":131,"v":-2},{"a":"F","p":132,"v":-8},{"a":"F","p":133,"v":-2},{"a":"F","p":134,"v":-1},{"a":"F","p":135,"v":-5},{"a":"F","p":136,"v":-9},{"a":"F","p":137,"v":-3},{"a":"F","p":138,"v":0},{"a":"F","p":139,"v":-9},{"a":"F","p":140,"v":-6},{"a":"F","p":141,"v":-6},{"a":"F","p":142,"v":-6},{"a":"F","p":143,"v":-2},{"a":"F","p":144,"v":-3},{"a":"F","p":145,"v":-9},{"a":"F","p":146,"v":0},{"a":"F","p":147,"v":-9},{"a":"F","p":148,"v":-9},{"a":"F","p":149,"v":-9},{"a":"F","p":150,"v":-2},
{"a":"W","p":121,"v":-8},{"a":"W","p":122,"v":-8},{"a":"W","p":123,"v":-7},{"a":"W","p":124,"v":-9},{"a":"W","p":125,"v":-7},{"a":"W","p":126,"v":-6},{"a":"W","p":127,"v":-6},{"a":"W","p":128,"v":-6},{"a":"W","p":129,"v":-7},{"a":"W","p":130,"v":-7},{"a":"W","p":131,"v":-8},{"a":"W","p":132,"v":-8},{"a":"W","p":133,"v":-4},{"a":"W","p":134,"v":-6},{"a":"W","p":135,"v":-3},{"a":"W","p":136,"v":-9},{"a":"W","p":137,"v":-2},{"a":"W","p":138,"v":-6},{"a":"W","p":139,"v":-9},{"a":"W","p":140,"v":-6},{"a":"W","p":141,"v":-6},{"a":"W","p":142,"v":-6},{"a":"W","p":143,"v":-8},{"a":"W","p":144,"v":-2},{"a":"W","p":145,"v":-9},{"a":"W","p":146,"v":-3},{"a":"W","p":147,"v":-9},{"a":"W","p":148,"v":-9},{"a":"W","p":149,"v":-9},{"a":"W","p":150,"v":-2}],
"c2":[{"a":"K","p":151,"v":-9},{"a":"K","p":152,"v":-2},{"a":"K","p":153,"v":-2},{"a":"K","p":154,"v":-8},{"a":"K","p":155,"v":-2},{"a":"K","p":156,"v":-5},{"a":"K","p":157,"v":-5},{"a":"K","p":158,"v":-8},{"a":"K","p":159,"v":-5},{"a":"K","p":160,"v":-1},{"a":"K","p":161,"v":-3},{"a":"K","p":162,"v":-5},{"a":"K","p":163,"v":-3},{"a":"K","p":164,"v":-3},{"a":"K","p":165,"v":-7},{"a":"K","p":166,"v":-5},{"a":"K","p":167,"v":-3},{"a":"K","p":168,"v":-2},{"a":"K","p":169,"v":-8},{"a":"K","p":170,"v":-9},{"a":"K","p":171,"v":-8},{"a":"K","p":172,"v":-1},{"a":"K","p":173,"v":-3},{"a":"K","p":174,"v":-9},{"a":"K","p":175,"v":-1},{"a":"K","p":176,"v":-3},{"a":"K","p":177,"v":-4},{"a":"K","p":178,"v":-3},{"a":"K","p":179,"v":-9},{"a":"K","p":180,"v":-1},
{"a":"R","p":151,"v":-8},{"a":"R","p":152,"v":-2},{"a":"R","p":153,"v":-2},{"a":"R","p":154,"v":-8},{"a":"R","p":155,"v":-3},{"a":"R","p":156,"v":-2},{"a":"R","p":157,"v":-2},{"a":"R","p":158,"v":-8},{"a":"R","p":159,"v":-1},{"a":"R","p":160,"v":-7},{"a":"R","p":161,"v":-8},{"a":"R","p":162,"v":-4},{"a":"R","p":163,"v":-3},{"a":"R","p":164,"v":-2},{"a":"R","p":165,"v":-7},{"a":"R","p":166,"v":-5},{"a":"R","p":167,"v":-3},{"a":"R","p":168,"v":-1},{"a":"R","p":169,"v":-8},{"a":"R","p":170,"v":-4},{"a":"R","p":171,"v":-3},{"a":"R","p":172,"v":-1},{"a":"R","p":173,"v":-3},{"a":"R","p":174,"v":-9},{"a":"R","p":175,"v":-1},{"a":"R","p":176,"v":-3},{"a":"R","p":177,"v":-4},{"a":"R","p":178,"v":-4},{"a":"R","p":179,"v":-4},{"a":"R","p":180,"v":-5},
{"a":"H","p":151,"v":-4},{"a":"H","p":152,"v":-1},{"a":"H","p":153,"v":-7},{"a":"H","p":154,"v":-8},{"a":"H","p":155,"v":-6},{"a":"H","p":156,"v":-5},{"a":"H","p":157,"v":-5},{"a":"H","p":158,"v":-8},{"a":"H","p":159,"v":-6},{"a":"H","p":160,"v":-7},{"a":"H","p":161,"v":-8},{"a":"H","p":162,"v":-7},{"a":"H","p":163,"v":-7},{"a":"H","p":164,"v":-3},{"a":"H","p":165,"v":-7},{"a":"H","p":166,"v":-5},{"a":"H","p":167,"v":-3},{"a":"H","p":168,"v":-6},{"a":"H","p":169,"v":-4},{"a":"H","p":170,"v":-4},{"a":"H","p":171,"v":-7},{"a":"H","p":172,"v":-1},{"a":"H","p":173,"v":-8},{"a":"H","p":174,"v":-8},{"a":"H","p":175,"v":-5},{"a":"H","p":176,"v":-3},{"a":"H","p":177,"v":-3},{"a":"H","p":178,"v":-8},{"a":"H","p":179,"v":-8},{"a":"H","p":180,"v":-5},
{"a":"E","p":151,"v":-5},{"a":"E","p":152,"v":-7},{"a":"E","p":153,"v":0},{"a":"E","p":154,"v":-8},{"a":"E","p":155,"v":-3},{"a":"E","p":156,"v":-2},{"a":"E","p":157,"v":-1},{"a":"E","p":158,"v":-8},{"a":"E","p":159,"v":-6},{"a":"E","p":160,"v":-7},{"a":"E","p":161,"v":-2},{"a":"E","p":162,"v":-2},{"a":"E","p":163,"v":-8},{"a":"E","p":164,"v":-7},{"a":"E","p":165,"v":-3},{"a":"E","p":166,"v":0},{"a":"E","p":167,"v":-7},{"a":"E","p":168,"v":-6},{"a":"E","p":169,"v":-3},{"a":"E","p":170,"v":-8},{"a":"E","p":171,"v":-3},{"a":"E","p":172,"v":-1},{"a":"E","p":173,"v":-4},{"a":"E","p":174,"v":-3},{"a":"E","p":175,"v":-2},{"a":"E","p":176,"v":-3},{"a":"E","p":177,"v":-8},{"a":"E","p":178,"v":-4},{"a":"E","p":179,"v":-8},{"a":"E","p":180,"v":-5},
{"a":"D","p":151,"v":-4},{"a":"D","p":152,"v":-7},{"a":"D","p":153,"v":-1},{"a":"D","p":154,"v":-8},{"a":"D","p":155,"v":-6},{"a":"D","p":156,"v":-4},{"a":"D","p":157,"v":-1},{"a":"D","p":158,"v":-1},{"a":"D","p":159,"v":-2},{"a":"D","p":160,"v":-2},{"a":"D","p":161,"v":-2},{"a":"D","p":162,"v":-3},{"a":"D","p":163,"v":-2},{"a":"D","p":164,"v":-1},{"a":"D","p":165,"v":-3},{"a":"D","p":166,"v":-5},{"a":"D","p":167,"v":-8},{"a":"D","p":168,"v":-6},{"a":"D","p":169,"v":-8},{"a":"D","p":170,"v":-8},{"a":"D","p":171,"v":-3},{"a":"D","p":172,"v":-1},{"a":"D","p":173,"v":-4},{"a":"D","p":174,"v":-9},{"a":"D","p":175,"v":-2},{"a":"D","p":176,"v":-2},{"a":"D","p":177,"v":-4},{"a":"D","p":178,"v":-1},{"a":"D","p":179,"v":-8},{"a":"D","p":180,"v":-6},
{"a":"N","p":151,"v":-4},{"a":"N","p":152,"v":-1},{"a":"N","p":153,"v":-2},{"a":"N","p":154,"v":-8},{"a":"N","p":155,"v":-2},{"a":"N","p":156,"v":-1},{"a":"N","p":157,"v":-1},{"a":"N","p":158,"v":-8},{"a":"N","p":159,"v":-6},{"a":"N","p":160,"v":-7},{"a":"N","p":161,"v":-3},{"a":"N","p":162,"v":-4},{"a":"N","p":163,"v":0},{"a":"N","p":164,"v":-1},{"a":"N","p":165,"v":-7},{"a":"N","p":166,"v":-2},{"a":"N","p":167,"v":-2},{"a":"N","p":168,"v":-1},{"a":"N","p":169,"v":0},{"a":"N","p":170,"v":-8},{"a":"N","p":171,"v":-3},{"a":"N","p":172,"v":-1},{"a":"N","p":173,"v":-8},{"a":"N","p":174,"v":-2},{"a":"N","p":175,"v":-1},{"a":"N","p":176,"v":-3},{"a":"N","p":177,"v":-8},{"a":"N","p":178,"v":-4},{"a":"N","p":179,"v":-9},{"a":"N","p":180,"v":-1},
{"a":"Q","p":151,"v":-9},{"a":"Q","p":152,"v":-2},{"a":"Q","p":153,"v":-7},{"a":"Q","p":154,"v":-8},{"a":"Q","p":155,"v":-1},{"a":"Q","p":156,"v":0},{"a":"Q","p":157,"v":-5},{"a":"Q","p":158,"v":-2},{"a":"Q","p":159,"v":-7},{"a":"Q","p":160,"v":-1},{"a":"Q","p":161,"v":-2},{"a":"Q","p":162,"v":-8},{"a":"Q","p":163,"v":-3},{"a":"Q","p":164,"v":-2},{"a":"Q","p":165,"v":-3},{"a":"Q","p":166,"v":-2},{"a":"Q","p":167,"v":-3},{"a":"Q","p":168,"v":-2},{"a":"Q","p":169,"v":-4},{"a":"Q","p":170,"v":-8},{"a":"Q","p":171,"v":-4},{"a":"Q","p":172,"v":-1},{"a":"Q","p":173,"v":-3},{"a":"Q","p":174,"v":-8},{"a":"Q","p":175,"v":0},{"a":"Q","p":176,"v":-7},{"a":"Q","p":177,"v":-8},{"a":"Q","p":178,"v":-4},{"a":"Q","p":179,"v":-9},{"a":"Q","p":180,"v":0},
{"a":"T","p":151,"v":-4},{"a":"T","p":152,"v":0},{"a":"T","p":153,"v":-2},{"a":"T","p":154,"v":-3},{"a":"T","p":155,"v":-2},{"a":"T","p":156,"v":-5},{"a":"T","p":157,"v":-2},{"a":"T","p":158,"v":-8},{"a":"T","p":159,"v":-2},{"a":"T","p":160,"v":0},{"a":"T","p":161,"v":-1},{"a":"T","p":162,"v":-4},{"a":"T","p":163,"v":-2},{"a":"T","p":164,"v":-1},{"a":"T","p":165,"v":-7},{"a":"T","p":166,"v":-5},{"a":"T","p":167,"v":-3},{"a":"T","p":168,"v":-1},{"a":"T","p":169,"v":-2},{"a":"T","p":170,"v":-5},{"a":"T","p":171,"v":-3},{"a":"T","p":172,"v":-1},{"a":"T","p":173,"v":-2},{"a":"T","p":174,"v":-4},{"a":"T","p":175,"v":-1},{"a":"T","p":176,"v":-1},{"a":"T","p":177,"v":-4},{"a":"T","p":178,"v":-8},{"a":"T","p":179,"v":-3},{"a":"T","p":180,"v":-1},
{"a":"S","p":151,"v":0},{"a":"S","p":152,"v":-1},{"a":"S","p":153,"v":-2},{"a":"S","p":154,"v":-2},{"a":"S","p":155,"v":-2},{"a":"S","p":156,"v":-1},{"a":"S","p":157,"v":-1},{"a":"S","p":158,"v":-2},{"a":"S","p":159,"v":0},{"a":"S","p":160,"v":-1},{"a":"S","p":161,"v":-1},{"a":"S","p":162,"v":-4},{"a":"S","p":163,"v":-1},{"a":"S","p":164,"v":-1},{"a":"S","p":165,"v":-7},{"a":"S","p":166,"v":-1},{"a":"S","p":167,"v":-2},{"a":"S","p":168,"v":-1},{"a":"S","p":169,"v":-3},{"a":"S","p":170,"v":-8},{"a":"S","p":171,"v":-3},{"a":"S","p":172,"v":-1},{"a":"S","p":173,"v":-4},{"a":"S","p":174,"v":-4},{"a":"S","p":175,"v":-1},{"a":"S","p":176,"v":0},{"a":"S","p":177,"v":-3},{"a":"S","p":178,"v":-8},{"a":"S","p":179,"v":-3},{"a":"S","p":180,"v":-1},
{"a":"C","p":151,"v":-4},{"a":"C","p":152,"v":-2},{"a":"C","p":153,"v":-3},{"a":"C","p":154,"v":-3},{"a":"C","p":155,"v":-7},{"a":"C","p":156,"v":-6},{"a":"C","p":157,"v":-6},{"a":"C","p":158,"v":-8},{"a":"C","p":159,"v":-7},{"a":"C","p":160,"v":-7},{"a":"C","p":161,"v":-8},{"a":"C","p":162,"v":0},{"a":"C","p":163,"v":-8},{"a":"C","p":164,"v":-3},{"a":"C","p":165,"v":-2},{"a":"C","p":166,"v":-5},{"a":"C","p":167,"v":-8},{"a":"C","p":168,"v":-6},{"a":"C","p":169,"v":-8},{"a":"C","p":170,"v":0},{"a":"C","p":171,"v":-8},{"a":"C","p":172,"v":-1},{"a":"C","p":173,"v":-9},{"a":"C","p":174,"v":-9},{"a":"C","p":175,"v":-6},{"a":"C","p":176,"v":-7},{"a":"C","p":177,"v":-8},{"a":"C","p":178,"v":-8},{"a":"C","p":179,"v":-9},{"a":"C","p":180,"v":-6},
{"a":"G","p":151,"v":-9},{"a":"G","p":152,"v":-5},{"a":"G","p":153,"v":-3},{"a":"G","p":154,"v":-8},{"a":"G","p":155,"v":-2},{"a":"G","p":156,"v":-2},{"a":"G","p":157,"v":-1},{"a":"G","p":158,"v":0},{"a":"G","p":159,"v":-1},{"a":"G","p":160,"v":-1},{"a":"G","p":161,"v":-8},{"a":"G","p":162,"v":-4},{"a":"G","p":163,"v":-2},{"a":"G","p":164,"v":0},{"a":"G","p":165,"v":-2},{"a":"G","p":166,"v":-1},{"a":"G","p":167,"v":0},{"a":"G","p":168,"v":-2},{"a":"G","p":169,"v":-2},{"a":"G","p":170,"v":-8},{"a":"G","p":171,"v":-4},{"a":"G","p":172,"v":-1},{"a":"G","p":173,"v":-4},{"a":"G","p":174,"v":-4},{"a":"G","p":175,"v":-2},{"a":"G","p":176,"v":-2},{"a":"G","p":177,"v":-4},{"a":"G","p":178,"v":0},{"a":"G","p":179,"v":-9},{"a":"G","p":180,"v":-2},
{"a":"A","p":151,"v":-3},{"a":"A","p":152,"v":-6},{"a":"A","p":153,"v":-3},{"a":"A","p":154,"v":-3},{"a":"A","p":155,"v":-2},{"a":"A","p":156,"v":-1},{"a":"A","p":157,"v":0},{"a":"A","p":158,"v":-2},{"a":"A","p":159,"v":-6},{"a":"A","p":160,"v":-6},{"a":"A","p":161,"v":-3},{"a":"A","p":162,"v":-4},{"a":"A","p":163,"v":-3},{"a":"A","p":164,"v":-1},{"a":"A","p":165,"v":-2},{"a":"A","p":166,"v":-2},{"a":"A","p":167,"v":-2},{"a":"A","p":168,"v":-6},{"a":"A","p":169,"v":-8},{"a":"A","p":170,"v":-8},{"a":"A","p":171,"v":-8},{"a":"A","p":172,"v":-2},{"a":"A","p":173,"v":-3},{"a":"A","p":174,"v":-3},{"a":"A","p":175,"v":-3},{"a":"A","p":176,"v":-2},{"a":"A","p":177,"v":-2},{"a":"A","p":178,"v":-2},{"a":"A","p":179,"v":-3},{"a":"A","p":180,"v":-1},
{"a":"V","p":151,"v":-3},{"a":"V","p":152,"v":-2},{"a":"V","p":153,"v":-1},{"a":"V","p":154,"v":-2},{"a":"V","p":155,"v":-8},{"a":"V","p":156,"v":-2},{"a":"V","p":157,"v":-2},{"a":"V","p":158,"v":-8},{"a":"V","p":159,"v":-2},{"a":"V","p":160,"v":-7},{"a":"V","p":161,"v":-8},{"a":"V","p":162,"v":-4},{"a":"V","p":163,"v":-3},{"a":"V","p":164,"v":-7},{"a":"V","p":165,"v":0},{"a":"V","p":166,"v":-1},{"a":"V","p":167,"v":-8},{"a":"V","p":168,"v":-3},{"a":"V","p":169,"v":-3},{"a":"V","p":170,"v":-5},{"a":"V","p":171,"v":-4},{"a":"V","p":172,"v":-2},{"a":"V","p":173,"v":-3},{"a":"V","p":174,"v":-5},{"a":"V","p":175,"v":-6},{"a":"V","p":176,"v":-3},{"a":"V","p":177,"v":-2},{"a":"V","p":178,"v":-8},{"a":"V","p":179,"v":-3},{"a":"V","p":180,"v":-2},
{"a":"L","p":151,"v":-3},{"a":"L","p":152,"v":-7},{"a":"L","p":153,"v":-7},{"a":"L","p":154,"v":-2},{"a":"L","p":155,"v":-8},{"a":"L","p":156,"v":-5},{"a":"L","p":157,"v":-2},{"a":"L","p":158,"v":-8},{"a":"L","p":159,"v":-2},{"a":"L","p":160,"v":-7},{"a":"L","p":161,"v":-3},{"a":"L","p":162,"v":-4},{"a":"L","p":163,"v":-3},{"a":"L","p":164,"v":-7},{"a":"L","p":165,"v":-2},{"a":"L","p":166,"v":-1},{"a":"L","p":167,"v":-8},{"a":"L","p":168,"v":-1},{"a":"L","p":169,"v":-3},{"a":"L","p":170,"v":-2},{"a":"L","p":171,"v":-5},{"a":"L","p":172,"v":-2},{"a":"L","p":173,"v":-3},{"a":"L","p":174,"v":0},{"a":"L","p":175,"v":-6},{"a":"L","p":176,"v":-3},{"a":"L","p":177,"v":-2},{"a":"L","p":178,"v":-8},{"a":"L","p":179,"v":-3},{"a":"L","p":180,"v":-5},
{"a":"I","p":151,"v":-8},{"a":"I","p":152,"v":-2},{"a":"I","p":153,"v":-3},{"a":"I","p":154,"v":0},{"a":"I","p":155,"v":-7},{"a":"I","p":156,"v":-5},{"a":"I","p":157,"v":-5},{"a":"I","p":158,"v":-3},{"a":"I","p":159,"v":-7},{"a":"I","p":160,"v":-7},{"a":"I","p":161,"v":-3},{"a":"I","p":162,"v":-8},{"a":"I","p":163,"v":-8},{"a":"I","p":164,"v":-7},{"a":"I","p":165,"v":-2},{"a":"I","p":166,"v":-1},{"a":"I","p":167,"v":-3},{"a":"I","p":168,"v":-6},{"a":"I","p":169,"v":-5},{"a":"I","p":170,"v":-8},{"a":"I","p":171,"v":-4},{"a":"I","p":172,"v":-4},{"a":"I","p":173,"v":-8},{"a":"I","p":174,"v":-4},{"a":"I","p":175,"v":-6},{"a":"I","p":176,"v":-7},{"a":"I","p":177,"v":-3},{"a":"I","p":178,"v":-8},{"a":"I","p":179,"v":-8},{"a":"I","p":180,"v":-5},
{"a":"M","p":151,"v":-9},{"a":"M","p":152,"v":-2},{"a":"M","p":153,"v":-6},{"a":"M","p":154,"v":-8},{"a":"M","p":155,"v":-7},{"a":"M","p":156,"v":-5},{"a":"M","p":157,"v":-5},{"a":"M","p":158,"v":-8},{"a":"M","p":159,"v":-7},{"a":"M","p":160,"v":-7},{"a":"M","p":161,"v":-7},{"a":"M","p":162,"v":-8},{"a":"M","p":163,"v":-8},{"a":"M","p":164,"v":-7},{"a":"M","p":165,"v":-3},{"a":"M","p":166,"v":-1},{"a":"M","p":167,"v":-8},{"a":"M","p":168,"v":-5},{"a":"M","p":169,"v":-4},{"a":"M","p":170,"v":-8},{"a":"M","p":171,"v":-3},{"a":"M","p":172,"v":-2},{"a":"M","p":173,"v":-8},{"a":"M","p":174,"v":-8},{"a":"M","p":175,"v":-6},{"a":"M","p":176,"v":-3},{"a":"M","p":177,"v":-4},{"a":"M","p":178,"v":-8},{"a":"M","p":179,"v":-8},{"a":"M","p":180,"v":-5},
{"a":"P","p":151,"v":-3},{"a":"P","p":152,"v":-2},{"a":"P","p":153,"v":-2},{"a":"P","p":154,"v":-2},{"a":"P","p":155,"v":-3},{"a":"P","p":156,"v":-1},{"a":"P","p":157,"v":0.3},{"a":"P","p":158,"v":-4},{"a":"P","p":159,"v":-2},{"a":"P","p":160,"v":-2},{"a":"P","p":161,"v":0},{"a":"P","p":162,"v":-4},{"a":"P","p":163,"v":-4},{"a":"P","p":164,"v":-2},{"a":"P","p":165,"v":-2},{"a":"P","p":166,"v":-1},{"a":"P","p":167,"v":-4},{"a":"P","p":168,"v":-2},{"a":"P","p":169,"v":-8},{"a":"P","p":170,"v":-8},{"a":"P","p":171,"v":-8},{"a":"P","p":172,"v":-5},{"a":"P","p":173,"v":0},{"a":"P","p":174,"v":-3},{"a":"P","p":175,"v":-6},{"a":"P","p":176,"v":-2},{"a":"P","p":177,"v":-8},{"a":"P","p":178,"v":-8},{"a":"P","p":179,"v":-8},{"a":"P","p":180,"v":-2},
{"a":"Y","p":151,"v":-4},{"a":"Y","p":152,"v":-1},{"a":"Y","p":153,"v":-2},{"a":"Y","p":154,"v":-8},{"a":"Y","p":155,"v":0},{"a":"Y","p":156,"v":-3},{"a":"Y","p":157,"v":-6},{"a":"Y","p":158,"v":-8},{"a":"Y","p":159,"v":-2},{"a":"Y","p":160,"v":-2},{"a":"Y","p":161,"v":-3},{"a":"Y","p":162,"v":-3},{"a":"Y","p":163,"v":-8},{"a":"Y","p":164,"v":-2},{"a":"Y","p":165,"v":-2},{"a":"Y","p":166,"v":-5},{"a":"Y","p":167,"v":-8},{"a":"Y","p":168,"v":-1},{"a":"Y","p":169,"v":-8},{"a":"Y","p":170,"v":-4},{"a":"Y","p":171,"v":0},{"a":"Y","p":172,"v":-1},{"a":"Y","p":173,"v":-3},{"a":"Y","p":174,"v":-4},{"a":"Y","p":175,"v":-2},{"a":"Y","p":176,"v":-3},{"a":"Y","p":177,"v":0},{"a":"Y","p":178,"v":-3},{"a":"Y","p":179,"v":-3},{"a":"Y","p":180,"v":-1},
{"a":"F","p":151,"v":-4},{"a":"F","p":152,"v":-3},{"a":"F","p":153,"v":-7},{"a":"F","p":154,"v":-3},{"a":"F","p":155,"v":-1},{"a":"F","p":156,"v":-6},{"a":"F","p":157,"v":-6},{"a":"F","p":158,"v":-8},{"a":"F","p":159,"v":-2},{"a":"F","p":160,"v":-8},{"a":"F","p":161,"v":-8},{"a":"F","p":162,"v":-3},{"a":"F","p":163,"v":-8},{"a":"F","p":164,"v":-2},{"a":"F","p":165,"v":-2},{"a":"F","p":166,"v":-1},{"a":"F","p":167,"v":-8},{"a":"F","p":168,"v":0},{"a":"F","p":169,"v":-8},{"a":"F","p":170,"v":-4},{"a":"F","p":171,"v":-3},{"a":"F","p":172,"v":0},{"a":"F","p":173,"v":-4},{"a":"F","p":174,"v":-8},{"a":"F","p":175,"v":-2},{"a":"F","p":176,"v":-7},{"a":"F","p":177,"v":-5},{"a":"F","p":178,"v":-8},{"a":"F","p":179,"v":0},{"a":"F","p":180,"v":-1},
{"a":"W","p":151,"v":-9},{"a":"W","p":152,"v":-7},{"a":"W","p":153,"v":-7},{"a":"W","p":154,"v":-8},{"a":"W","p":155,"v":-1},{"a":"W","p":156,"v":-6},{"a":"W","p":157,"v":-6},{"a":"W","p":158,"v":-8},{"a":"W","p":159,"v":-7},{"a":"W","p":160,"v":-7},{"a":"W","p":161,"v":-8},{"a":"W","p":162,"v":-8},{"a":"W","p":163,"v":-8},{"a":"W","p":164,"v":-7},{"a":"W","p":165,"v":-7},{"a":"W","p":166,"v":-1},{"a":"W","p":167,"v":-8},{"a":"W","p":168,"v":-5},{"a":"W","p":169,"v":-3},{"a":"W","p":170,"v":-9},{"a":"W","p":171,"v":-8},{"a":"W","p":172,"v":-1},{"a":"W","p":173,"v":-9},{"a":"W","p":174,"v":-3},{"a":"W","p":175,"v":-2},{"a":"W","p":176,"v":-7},{"a":"W","p":177,"v":-8},{"a":"W","p":178,"v":-8},{"a":"W","p":179,"v":-3},{"a":"W","p":180,"v":-6}],
"s1":[{"r":"N 121","v":-4},{"r":"N 122","v":-3},{"r":"L 123","v":-3},{"r":"D 124","v":-6},{"r":"S 125","v":-3},{"r":"K 126","v":-3},{"r":"V 127","v":-3},{"r":"G 128","v":-3},{"r":"G 129","v":-4},{"r":"N 130","v":-4},{"r":"Y 131","v":-4},{"r":"N 132","v":-4},{"r":"Y 133","v":-4},{"r":"L 134","v":-3},{"r":"Y 135","v":-6},{"r":"R 136","v":-5},{"r":"L 137","v":-3},{"r":"F 138","v":-3},{"r":"R 139","v":-6},{"r":"K 140","v":-3},{"r":"S 141","v":-3},{"r":"N 142","v":-3},{"r":"L 143","v":-5},{"r":"K 144","v":-4},{"r":"P 145","v":-7},{"r":"F 146","v":-5},{"r":"E 147","v":-6},{"r":"R 148","v":-6},{"r":"D 149","v":-6},{"r":"I 150","v":-4}],
"s2":[{"r":"S 151","v":-5},{"r":"T 152","v":-3},{"r":"E 153","v":-3},{"r":"I 154","v":-4},{"r":"Y 155","v":-3},{"r":"Q 156","v":-3},{"r":"A 157","v":-3},{"r":"G 158","v":-5},{"r":"S 159","v":-3},{"r":"T 160","v":-3},{"r":"P 161","v":-3},{"r":"C 162","v":-4},{"r":"N 163","v":-4},{"r":"G 164","v":-3},{"r":"V 165","v":-3},{"r":"E 166","v":-2},{"r":"G 167","v":-4},{"r":"F 168","v":-3},{"r":"N 169","v":-4},{"r":"C 170","v":-6},{"r":"Y 171","v":-4},{"r":"F 172","v":-2},{"r":"P 173","v":-4},{"r":"L 174","v":-5},{"r":"Q 175","v":-3},{"r":"S 176","v":-3},{"r":"Y 177","v":-5},{"r":"G 178","v":-5},{"r":"F 179","v":-6},{"r":"Q 180","v":-3}],
"d":[{"x":124,"y":9},{"x":130,"y":9},{"x":135,"y":9},{"x":136,"y":9},{"x":139,"y":9},{"x":145,"y":9},{"x":148,"y":9},{"x":149,"y":9},{"x":174,"y":9},{"x":177,"y":9},{"x":179,"y":9},{"x":129,"y":8},{"x":151,"y":8},{"x":142,"y":7},{"x":147,"y":7},{"x":169,"y":7},{"x":133,"y":6},{"x":143,"y":6},{"x":173,"y":6},{"x":178,"y":6},{"x":152,"y":4},{"x":170,"y":4},{"x":144,"y":3},{"x":146,"y":3},{"x":121,"y":2},{"x":165,"y":2},{"x":122,"y":1},{"x":123,"y":1},{"x":125,"y":1},{"x":126,"y":1},{"x":127,"y":1},{"x":128,"y":1},{"x":131,"y":1},{"x":132,"y":1},{"x":134,"y":1},{"x":137,"y":1},{"x":138,"y":1},{"x":140,"y":1},{"x":141,"y":1},{"x":150,"y":1},{"x":153,"y":1},{"x":154,"y":1},{"x":155,"y":1},{"x":156,"y":1},{"x":157,"y":1},{"x":158,"y":1},{"x":159,"y":1},{"x":160,"y":1},{"x":161,"y":1},{"x":162,"y":1},{"x":163,"y":1},{"x":164,"y":1},{"x":166,"y":1},{"x":167,"y":1},{"x":168,"y":1},{"x":171,"y":1},{"x":172,"y":1},{"x":175,"y":1},{"x":176,"y":1},{"x":180,"y":1}],
"e":[{"i":1,"aa":"F","v":-3.85},{"i":2,"aa":"K","v":-5.85},{"i":3,"aa":"Y","v":-2.5},{"i":4,"aa":"L","v":-2.1},{"i":5,"aa":"P","v":-2.7},{"i":6,"aa":"A","v":-2},{"i":7,"aa":"K","v":-2.15},{"i":8,"aa":"N","v":-1.3},{"i":9,"aa":"R","v":-2.1},{"i":10,"aa":"S","v":-1.85},{"i":11,"aa":"D","v":-2.75},{"i":12,"aa":"N","v":-3.2},{"i":13,"aa":"P","v":-2.85},{"i":14,"aa":"T","v":-2.25},{"i":15,"aa":"A","v":-2.25},{"i":16,"aa":"S","v":-1.35},{"i":17,"aa":"T","v":-1.8},{"i":18,"aa":"V","v":-1.35}],
"eg":[{"g":"L137","a":0.78,"b":3.55,"c":2.17},{"g":"F168","a":3.66,"b":5.75,"c":4.6},{"g":"Q175","a":5.96,"b":10.15,"c":8.04},{"g":"S176","a":10.62,"b":14.35,"c":12.37},{"g":"N183","a":14.66,"b":18.73,"c":16.34}],
"one":[{}]
},
"resolve":{"scale":{"x":"independent","y":"independent","color":"independent"},"axis":{"x":"independent","y":"independent"},"legend":{"color":"independent"}},
"layer":[
{"data":{"name":"a"},"layer":[
{"data":{"name":"one"},"mark":{"type":"rect","fill":"transparent","stroke":"#8a8a8a","strokeWidth":1},"encoding":{"x":{"datum":-10.1,"type":"quantitative"},"x2":{"datum":289.9},"y":{"datum":0,"type":"quantitative"},"y2":{"datum":1.899}}},
{"mark":{"type":"rule","strokeWidth":1.2},"encoding":{"x":{"field":"x","type":"quantitative","scale":{"domain":[0,250],"range":[50.7,308.2],"nice":false,"zero":false},"axis":{"orient":"bottom","offset":-586.7,"values":[0,50,100,150,200,250],"title":null,"domain":false,"tickColor":"#666","tickSize":3.5,"labelColor":"#555","labelFontSize":7.5,"labelPadding":2}},"y":{"field":"h","type":"quantitative","scale":{"domain":[0,1.75],"range":[269.3,58.3],"nice":false,"zero":false},"axis":{"orient":"left","offset":-40.3,"values":[0,0.25,0.5,0.75,1,1.25,1.5,1.75],"format":".2f","title":"Shannon entropy","titleFontSize":8.3,"titleFontWeight":"normal","titleColor":"#555","titlePadding":6,"domain":false,"tickColor":"#666","tickSize":3.5,"labelColor":"#555","labelFontSize":7.5,"labelPadding":2}},"y2":{"datum":0},"color":{"field":"t","type":"nominal","scale":{"domain":["l","d"],"range":["#b5cde4","#2b7bba"]},"legend":null}}},
{"data":{"name":"one"},"mark":{"type":"text","fontSize":9.6,"color":"#555"},"encoding":{"x":{"datum":139,"type":"quantitative"},"y":{"datum":1.979,"type":"quantitative"},"text":{"value":"Entropy"}}},
{"data":{"name":"one"},"mark":{"type":"text","font":"Liberation Serif","fontWeight":"bold","fontSize":25,"align":"left","color":"#000"},"encoding":{"x":{"datum":-29,"type":"quantitative"},"y":{"datum":2.09,"type":"quantitative"},"text":{"value":"A"}}}
]},
{"data":{"name":"b"},"layer":[
{"data":{"name":"one"},"mark":{"type":"rect","fill":"#f7fbff"},"encoding":{"x":{"datum":0,"type":"quantitative"},"x2":{"datum":273},"y":{"datum":0,"type":"quantitative"},"y2":{"datum":273}}},
{"mark":{"type":"square","size":3.5,"opacity":1},"encoding":{"x":{"field":"x","type":"quantitative","scale":{"domain":[0,273],"range":[392.7,674],"nice":false,"zero":false},"axis":{"orient":"bottom","offset":-587.7,"values":[0,11,22,33,44,55,66,77,88,99,110,121,132,143,154,165,176,187,198,209,220,231,242,253,264],"title":null,"labels":false,"domain":false,"tickColor":"#333","tickSize":3}},"y":{"field":"y","type":"quantitative","scale":{"domain":[0,273],"range":[40,268.3],"nice":false,"zero":false},"axis":{"orient":"left","offset":-392.7,"values":[0,14,28,42,56,70,84,98,112,126,140,154,168,182,196,210,224,238,252,266],"title":null,"labelFontSize":10.5,"labelColor":"#333","domain":true,"domainColor":"#5b7da8","tickColor":"#333","tickSize":0,"labelPadding":3}},"color":{"field":"v","type":"quantitative","scale":{"domain":[0.7,0.774,0.848,0.921,0.995,1.069,1.143,1.216,1.29],"range":["#f7fbff","#deebf7","#c6dbef","#9ecae1","#6baed6","#4292c6","#2171b5","#08519c","#08306b"]},"legend":{"orient":"none","legendX":693,"legendY":39,"gradientLength":229,"gradientThickness":11,"title":null,"values":[0.7,0.8,0.9,1,1.1,1.2],"format":".1f","labelFontSize":10.5,"labelColor":"#333","labelOffset":8}}}},
{"data":{"name":"bt"},"mark":{"type":"text","fontSize":9,"angle":270,"align":"right","color":"#333"},"encoding":{"x":{"field":"x","type":"quantitative"},"y":{"datum":281,"type":"quantitative"},"text":{"field":"x","type":"quantitative","format":"d"}}},
{"data":{"values":[{"x":113,"y":124,"o":1},{"x":113,"y":106.6,"o":2},{"x":191.4,"y":106.6,"o":3},{"x":191.4,"y":124,"o":4}]},"mark":{"type":"line","color":"#a0a0a0","strokeWidth":1},"encoding":{"x":{"field":"x","type":"quantitative"},"y":{"field":"y","type":"quantitative"},"order":{"field":"o"}}},
{"data":{"name":"one"},"mark":{"type":"text","font":"Liberation Serif","fontWeight":"bold","fontSize":24,"align":"left","color":"#000"},"encoding":{"x":{"datum":-15,"type":"quantitative"},"y":{"datum":-33,"type":"quantitative"},"text":{"value":"B"}}}
]},
{"data":{"name":"c1"},"encoding":{"x":{"field":"p","type":"ordinal","scale":{"type":"band","range":[43.7,349.3],"paddingInner":0,"paddingOuter":0},"axis":null},"y":{"field":"a","type":"nominal","scale":{"type":"band","domain":["K","R","H","E","D","N","Q","T","S","C","G","A","V","L","I","M","P","Y","F","W"],"range":[343.3,546],"paddingInner":0,"paddingOuter":0},"axis":{"orient":"left","offset":-43.7,"title":null,"domain":false,"ticks":false,"labelFontSize":6.5,"labelFontWeight":"bold","labelColor":"#333","labelPadding":3}}},"layer":[
{"mark":"rect","encoding":{"color":{"field":"v","type":"quantitative","scale":{"domain":[-10.7,-9,-8,-7,-6,-5,-4,-3,-2,-1,0,3,6,8.5,10.7],"range":["#000000","#00006e","#02208f","#073e9f","#0a5fb2","#1476bd","#3c92ca","#6cb0da","#a6cce8","#d4e5f3","#f2f2f2","#f7b58f","#e8541e","#8b0000","#000000"],"interpolate":"rgb"},"legend":{"orient":"none","legendX":13,"legendY":502,"gradientLength":171,"gradientThickness":12,"title":null,"labelOpacity":0,"labelFontSize":1}}}},
{"transform":[{"filter":"datum.v===0"}],"mark":{"type":"point","filled":true,"size":4,"color":"#000","opacity":1}}
]},
{"data":{"name":"s1"},"layer":[{"mark":"rect","encoding":{"x":{"field":"r","type":"nominal","sort":null,"scale":{"type":"band","range":[43.7,349.3],"paddingInner":0,"paddingOuter":0},"axis":{"orient":"bottom","offset":-289.3,"title":null,"domain":false,"ticks":false,"labelAngle":-90,"labelFontSize":6,"labelFontWeight":"bold","labelColor":"#333","labelPadding":5}},"y":{"datum":0,"type":"quantitative","scale":{"domain":[0,1],"range":[566.7,555.7],"nice":false,"zero":false},"axis":null},"y2":{"datum":1},"color":{"field":"v","type":"quantitative","scale":{"domain":[-10.7,-9,-8,-7,-6,-5,-4,-3,-2,-1,0,3,6,8.5,10.7],"range":["#000000","#00006e","#02208f","#073e9f","#0a5fb2","#1476bd","#3c92ca","#6cb0da","#a6cce8","#d4e5f3","#f2f2f2","#f7b58f","#e8541e","#8b0000","#000000"],"interpolate":"rgb"},"legend":null}}}]},
{"data":{"name":"c2"},"encoding":{"x":{"field":"p","type":"ordinal","scale":{"type":"band","range":[44.7,350],"paddingInner":0,"paddingOuter":0},"axis":null},"y":{"field":"a","type":"nominal","scale":{"type":"band","domain":["K","R","H","E","D","N","Q","T","S","C","G","A","V","L","I","M","P","Y","F","W"],"range":[602,805.3],"paddingInner":0,"paddingOuter":0},"axis":{"orient":"left","offset":-44.7,"title":null,"domain":false,"ticks":false,"labelFontSize":6.5,"labelFontWeight":"bold","labelColor":"#333","labelPadding":3}}},"layer":[
{"mark":"rect","encoding":{"color":{"field":"v","type":"quantitative","scale":{"domain":[-10.7,-9,-8,-7,-6,-5,-4,-3,-2,-1,0,3,6,8.5,10.7],"range":["#000000","#00006e","#02208f","#073e9f","#0a5fb2","#1476bd","#3c92ca","#6cb0da","#a6cce8","#d4e5f3","#f2f2f2","#f7b58f","#e8541e","#8b0000","#000000"],"interpolate":"rgb"},"legend":null}}},
{"transform":[{"filter":"datum.v===0"}],"mark":{"type":"point","filled":true,"size":4,"color":"#000","opacity":1}}
]},
{"data":{"name":"s2"},"layer":[{"mark":"rect","encoding":{"x":{"field":"r","type":"nominal","sort":null,"scale":{"type":"band","range":[44.7,350],"paddingInner":0,"paddingOuter":0},"axis":{"orient":"bottom","offset":-30.3,"title":null,"domain":false,"ticks":false,"labelAngle":-90,"labelFontSize":6,"labelFontWeight":"bold","labelColor":"#333","labelPadding":5}},"y":{"datum":0,"type":"quantitative","scale":{"domain":[0,1],"range":[825.7,814],"nice":false,"zero":false},"axis":null},"y2":{"datum":1},"color":{"field":"v","type":"quantitative","scale":{"domain":[-10.7,-9,-8,-7,-6,-5,-4,-3,-2,-1,0,3,6,8.5,10.7],"range":["#000000","#00006e","#02208f","#073e9f","#0a5fb2","#1476bd","#3c92ca","#6cb0da","#a6cce8","#d4e5f3","#f2f2f2","#f7b58f","#e8541e","#8b0000","#000000"],"interpolate":"rgb"},"legend":null}}}]},
{"layer":[
{"data":{"values":[{"t":"+10.7","x":-0.04,"y":15.5},{"t":"-10.7","x":-0.08,"y":-14.3}]},"mark":{"type":"text","font":"Liberation Serif","fontSize":20,"angle":270,"color":"#000"},"encoding":{"x":{"field":"x","type":"quantitative","scale":{"domain":[0,1],"range":[13,25],"nice":false,"zero":false},"axis":null},"y":{"field":"y","type":"quantitative","scale":{"domain":[-10.7,10.7],"range":[673,502],"nice":false,"zero":false},"axis":null},"text":{"field":"t"}}},
{"data":{"values":[{"t":"C","x":0.25,"y":33.5}]},"mark":{"type":"text","font":"Liberation Serif","fontWeight":"bold","fontSize":25,"align":"left","color":"#000"},"encoding":{"x":{"field":"x","type":"quantitative"},"y":{"field":"y","type":"quantitative"},"text":{"field":"t"}}}
]},
{"data":{"name":"d"},"layer":[
{"data":{"name":"one"},"mark":{"type":"rect","fill":"transparent","stroke":"#8a8a8a","strokeWidth":1},"encoding":{"x":{"datum":118.1,"type":"quantitative"},"x2":{"datum":183},"y":{"datum":0.64,"type":"quantitative"},"y2":{"datum":9.39}}},
{"mark":{"type":"circle","size":17,"opacity":1},"encoding":{"x":{"field":"x","type":"quantitative","scale":{"domain":[120,180],"range":[411.7,680],"nice":false,"zero":false},"axis":{"orient":"bottom","offset":-322.3,"values":[120,130,140,150,160,170,180],"title":"Residue","titleFontSize":8.4,"titleFontWeight":"normal","titleColor":"#555","titlePadding":4,"domain":false,"tickColor":"#666","tickSize":3.5,"labelColor":"#555","labelFontSize":8,"labelPadding":2}},"y":{"field":"y","type":"quantitative","scale":{"domain":[1,9],"range":[526,355.3],"nice":false,"zero":false},"axis":{"orient":"left","offset":-403.3,"values":[1,2,3,4,5,6,7,8,9],"format":"d","title":null,"domain":false,"tickColor":"#666","tickSize":3.5,"labelColor":"#555","labelFontSize":8,"labelPadding":2}},"color":{"datum":"Conservation Score","scale":{"range":["#6cc56c"]},"legend":{"orient":"none","legendX":574,"legendY":433,"title":null,"fillColor":"#ffffff","strokeColor":"#e4e4e4","cornerRadius":2,"padding":3,"symbolSize":34,"symbolOpacity":1,"symbolOffset":6,"labelFontSize":8.9,"labelColor":"#555","labelOffset":10}}}},
{"data":{"name":"one"},"mark":{"type":"text","font":"Liberation Serif","fontWeight":"bold","fontSize":25,"align":"left","color":"#000"},"encoding":{"x":{"datum":111.6,"type":"quantitative"},"y":{"datum":10.7,"type":"quantitative"},"text":{"value":"D"}}}
]},
{"data":{"name":"e"},"layer":[
{"data":{"values":[{"x":0.2,"y":0,"y2":-6},{"x":1.1,"y":-1.23,"y2":-7.15}]},"mark":{"type":"area","orient":"vertical","color":{"x1":0,"y1":0,"x2":1,"y2":0,"gradient":"linear","stops":[{"offset":0,"color":"#74787e"},{"offset":1,"color":"#a9adb2"}]}},"encoding":{"x":{"field":"x","type":"quantitative","scale":{"domain":[1,18],"range":[397.2,698.5],"nice":false,"zero":false},"axis":null},"y":{"field":"y","type":"quantitative","scale":{"domain":[0,-6],"range":[663,741],"nice":false,"zero":false},"axis":{"orient":"left","offset":-377,"values":[0,-1,-2,-3,-4,-5,-6],"format":"d","title":null,"domain":false,"ticks":false,"labelAngle":-90,"labelFontSize":6.5,"labelFontWeight":"bold","labelColor":"#777","labelPadding":1}},"y2":{"field":"y2"}}},
{"data":{"name":"one"},"mark":{"type":"rect","fill":"#dde9f5","stroke":"#c4cfdb","strokeWidth":0.5},"encoding":{"x":{"datum":1.1,"type":"quantitative"},"x2":{"datum":18.99},"y":{"datum":-1.08,"type":"quantitative"},"y2":{"datum":-7.15}}},
{"data":{"name":"one"},"mark":{"type":"rule","color":"#8c8c8c","strokeWidth":1},"encoding":{"x":{"datum":0.2,"type":"quantitative"},"x2":{"datum":18.99},"y":{"datum":0,"type":"quantitative"}}},
{"data":{"name":"one"},"mark":{"type":"rule","color":"#a8adb3","strokeWidth":1.4},"encoding":{"x":{"datum":1.1,"type":"quantitative"},"x2":{"datum":18.99},"y":{"datum":-1.08,"type":"quantitative"}}},
{"encoding":{"x":{"field":"i","type":"quantitative"},"y":{"field":"v","type":"quantitative"},"y2":{"datum":-0.72}},"layer":[
{"mark":{"type":"bar","orient":"vertical","width":7.7,"color":"#0a4a75","xOffset":6,"yOffset":0,"y2Offset":0}},
{"mark":{"type":"bar","orient":"vertical","width":7.7,"color":"#0a4a75","xOffset":5,"yOffset":-1,"y2Offset":-1}},
{"mark":{"type":"bar","orient":"vertical","width":7.7,"color":"#0a4a75","xOffset":4,"yOffset":-2,"y2Offset":-2}},
{"mark":{"type":"bar","orient":"vertical","width":7.7,"color":"#0a4a75","xOffset":3,"yOffset":-3,"y2Offset":-3}},
{"mark":{"type":"bar","orient":"vertical","width":7.7,"color":"#0a4a75","xOffset":2,"yOffset":-4,"y2Offset":-4}},
{"mark":{"type":"bar","orient":"vertical","width":7.7,"color":"#0a4a75","xOffset":1,"yOffset":-5,"y2Offset":-5}},
{"mark":{"type":"bar","orient":"vertical","width":7.7,"color":"#03204a","xOffset":6,"yOffset":0,"y2Offset":-1.5},"encoding":{"y2":{"field":"v"}}},
{"mark":{"type":"bar","orient":"vertical","width":7.7,"color":"#03204a","xOffset":5,"yOffset":-1,"y2Offset":-2.5},"encoding":{"y2":{"field":"v"}}},
{"mark":{"type":"bar","orient":"vertical","width":7.7,"color":"#03204a","xOffset":4,"yOffset":-2,"y2Offset":-3.5},"encoding":{"y2":{"field":"v"}}},
{"mark":{"type":"bar","orient":"vertical","width":7.7,"color":"#03204a","xOffset":3,"yOffset":-3,"y2Offset":-4.5},"encoding":{"y2":{"field":"v"}}},
{"mark":{"type":"bar","orient":"vertical","width":7.7,"color":"#03204a","xOffset":2,"yOffset":-4,"y2Offset":-5.5},"encoding":{"y2":{"field":"v"}}},
{"mark":{"type":"bar","orient":"vertical","width":7.7,"color":"#03204a","xOffset":1,"yOffset":-5,"y2Offset":-6.5},"encoding":{"y2":{"field":"v"}}},
{"mark":{"type":"bar","orient":"vertical","width":7.7,"color":"#0f94d2","xOffset":0,"yOffset":-6,"y2Offset":-6}}
]},
{"mark":{"type":"text","font":"Liberation Serif","fontWeight":"bold","fontSize":9,"color":"#333","dx":3},"encoding":{"x":{"field":"i","type":"quantitative"},"y":{"datum":0.46,"type":"quantitative"},"text":{"field":"aa"}}},
{"data":{"name":"eg"},"layer":[
{"mark":{"type":"rect","fill":"transparent","stroke":"#4146a8","strokeWidth":1.3},"encoding":{"x":{"field":"a","type":"quantitative"},"x2":{"field":"b"},"y":{"datum":2.02,"type":"quantitative"},"y2":{"datum":0}}},
{"mark":{"type":"text","font":"Liberation Serif","fontWeight":"bold","fontSize":9.5,"color":"#333"},"encoding":{"x":{"field":"c","type":"quantitative"},"y":{"datum":1.33,"type":"quantitative"},"text":{"field":"g"}}}
]},
{"data":{"name":"one"},"mark":{"type":"text","font":"Liberation Serif","fontWeight":"bold","fontSize":25,"align":"left","color":"#000"},"encoding":{"x":{"datum":-0.2,"type":"quantitative"},"y":{"datum":5.85,"type":"quantitative"},"text":{"value":"E"}}}
]}
]}
